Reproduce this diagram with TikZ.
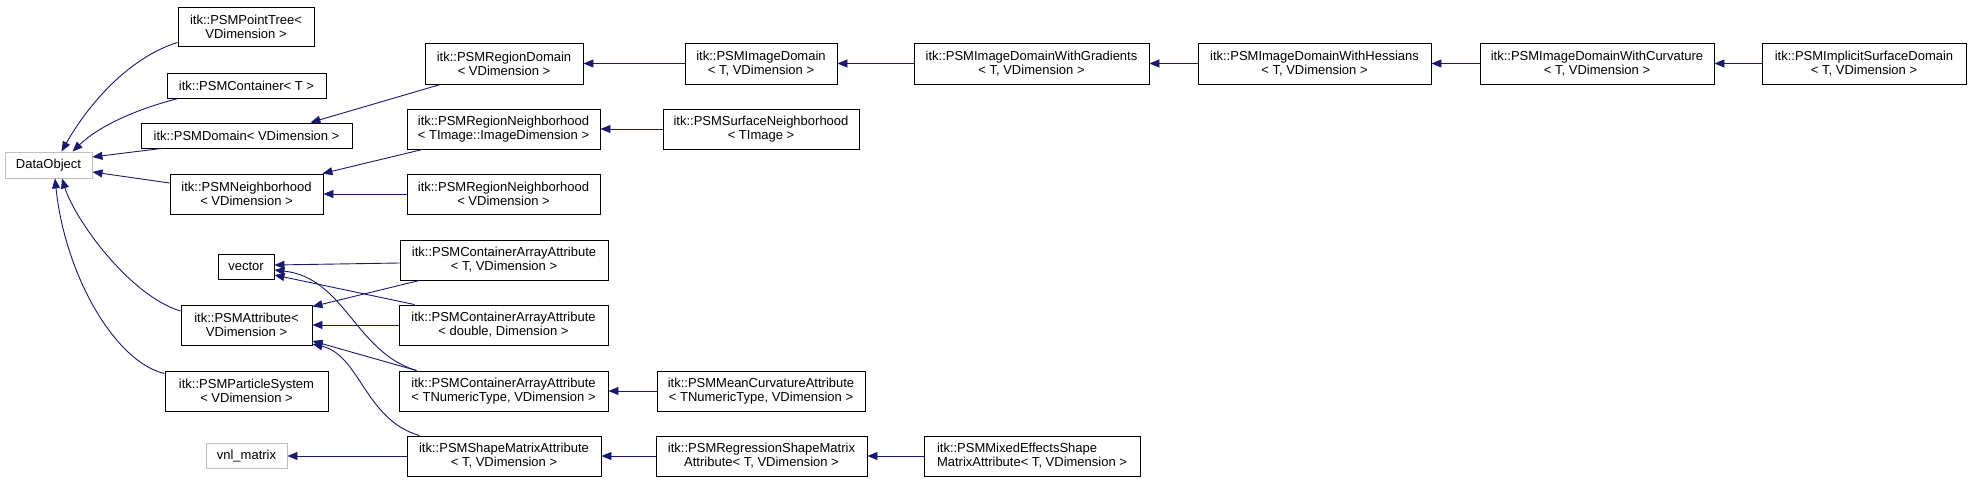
\documentclass[tikz,border=0pt]{standalone}
\usepackage{fontspec}
\setmainfont{Liberation Sans}
\usetikzlibrary{arrows.meta}
\definecolor{edgeblue}{HTML}{191970}
\definecolor{lightborder}{HTML}{BFBFBF}
\begin{document}
\begin{tikzpicture}[x=1pt,y=-1pt,
  box/.style={draw=black, line width=0.9pt, fill=white, inner sep=0pt, align=center, font=\fontsize{13}{14}\selectfont},
  graybox/.style={box, draw=lightborder},
  edge/.style={draw=edgeblue, line width=0.9pt, -{Triangle[length=10pt,width=8pt]}}]
\fill[white] (0,0) rectangle (1971,481);
\useasboundingbox (0,0) rectangle (1971,481);

% column 1
\node[graybox, minimum width=87pt, minimum height=26pt] (dataobj) at (48.5,165) {DataObject};
\node[box, minimum width=136pt, minimum height=39pt] (pointtree) at (246,26.5) {itk::PSMPointTree<\\VDimension >};
\node[box, minimum width=159pt, minimum height=25pt] (container) at (246.5,85.5) {itk::PSMContainer< T >};
\node[box, minimum width=211pt, minimum height=25pt] (domain) at (246.5,135.5) {itk::PSMDomain< VDimension >};
\node[box, minimum width=153pt, minimum height=40pt] (neigh) at (246.5,194) {itk::PSMNeighborhood\\< VDimension >};
\node[box, minimum width=56pt, minimum height=25pt] (vector) at (246,266.5) {vector};
\node[box, minimum width=131pt, minimum height=40pt] (attr) at (246.5,325) {itk::PSMAttribute<\\VDimension >};
\node[box, minimum width=163pt, minimum height=40pt] (particle) at (246.5,391) {itk::PSMParticleSystem\\< VDimension >};
\node[graybox, minimum width=81pt, minimum height=25pt] (vnl) at (246.5,456) {vnl\_matrix};

% column 2
\node[box, minimum width=158pt, minimum height=41pt] (regdom) at (504,63.5) {itk::PSMRegionDomain\\< VDimension >};
\node[box, minimum width=193pt, minimum height=40pt] (regnT) at (503.5,129) {itk::PSMRegionNeighborhood\\< TImage::ImageDimension >};
\node[box, minimum width=193pt, minimum height=40pt] (regnV) at (503.5,194) {itk::PSMRegionNeighborhood\\< VDimension >};
\node[box, minimum width=208pt, minimum height=40pt] (caaT) at (504,260) {itk::PSMContainerArrayAttribute\\< T, VDimension >};
\node[box, minimum width=209pt, minimum height=40pt] (caaD) at (503.5,325) {itk::PSMContainerArrayAttribute\\< double, Dimension >};
\node[box, minimum width=209pt, minimum height=40pt] (caaN) at (503.5,391) {itk::PSMContainerArrayAttribute\\< TNumericType, VDimension >};
\node[box, minimum width=194pt, minimum height=40pt] (shape) at (504,456) {itk::PSMShapeMatrixAttribute\\< T, VDimension >};

% column 3
\node[box, minimum width=152pt, minimum height=41pt] (imgdom) at (761,63.5) {itk::PSMImageDomain\\< T, VDimension >};
\node[box, minimum width=196pt, minimum height=40pt] (surf) at (761,129) {itk::PSMSurfaceNeighborhood\\< TImage >};
\node[box, minimum width=208pt, minimum height=40pt] (mean) at (761,391) {itk::PSMMeanCurvatureAttribute\\< TNumericType, VDimension >};
\node[box, minimum width=211pt, minimum height=40pt] (regr) at (761.5,456) {itk::PSMRegressionShapeMatrix\\Attribute< T, VDimension >};

% further columns
\node[box, minimum width=235pt, minimum height=41pt] (grad) at (1031.5,63.5) {itk::PSMImageDomainWithGradients\\< T, VDimension >};
\node[box, minimum width=233pt, minimum height=41pt] (hess) at (1314.5,63.5) {itk::PSMImageDomainWithHessians\\< T, VDimension >};
\node[box, minimum width=234pt, minimum height=41pt] (curv) at (1597,63.5) {itk::PSMImageDomainWithCurvature\\< T, VDimension >};
\node[box, minimum width=204pt, minimum height=41pt] (impl) at (1864,63.5) {itk::PSMImplicitSurfaceDomain\\< T, VDimension >};
\node[box, align=left, minimum width=216pt, minimum height=40pt] (mixed) at (1032,456) {itk::PSMMixedEffectsShape\\MatrixAttribute< T, VDimension >};

% edges into DataObject
\draw[edge] ([yshift=4pt]pointtree.south west) .. controls (128,58) and (88,105) .. ([xshift=13pt]dataobj.north);
\draw[edge] ([xshift=12pt]container.south west) .. controls (140,108) and (100,125) .. ([xshift=24pt]dataobj.north);
\draw[edge] ([xshift=21pt]domain.south west) -- ([yshift=8pt]dataobj.east);
\draw[edge] ([yshift=11pt]neigh.west) -- ([yshift=-7pt]dataobj.east);
\draw[edge] ([yshift=14pt]attr.west) .. controls (130,296) and (75,220) .. ([xshift=13.5pt]dataobj.south);
\draw[edge] ([yshift=-3pt]particle.north west) .. controls (115,362) and (65,275) .. ([xshift=6.5pt]dataobj.south);

% domain chain
\draw[edge] ([xshift=16pt]regdom.south west) -- ([xshift=-42pt]domain.north east);
\draw[edge] (imgdom.west) -- (regdom.east);
\draw[edge] (grad.west) -- (imgdom.east);
\draw[edge] (hess.west) -- (grad.east);
\draw[edge] (curv.west) -- (hess.east);
\draw[edge] (impl.west) -- (curv.east);

% neighborhoods
\draw[edge] ([xshift=16pt]regnT.south west) -- ([xshift=-1pt]neigh.north east);
\draw[edge] (regnV.west) -- (neigh.east);
\draw[edge] (surf.west) -- (regnT.east);

% attributes
\draw[edge] ([yshift=-3pt]caaT.west) -- ([yshift=1.5pt]vector.east);
\draw[edge] ([xshift=20pt]caaT.south west) -- ([yshift=-2pt]attr.north east);
\draw[edge] ([xshift=16pt]caaD.north west) -- ([yshift=-8.5pt]vector.east);
\draw[edge] (caaD.west) -- (attr.east);
\draw[edge] ([xshift=18pt]caaN.north west) .. controls (355,352) and (345,278) .. ([yshift=-3.5pt]vector.east);
\draw[edge] ([xshift=18pt]caaN.north west) -- ([yshift=-16pt]attr.east);
\draw[edge] ([xshift=13pt]shape.north west) .. controls (365,420) and (360,355) .. ([yshift=-19pt]attr.east);
\draw[edge] (shape.west) -- (vnl.east);
\draw[edge] (mean.west) -- (caaN.east);
\draw[edge] (regr.west) -- (shape.east);
\draw[edge] (mixed.west) -- (regr.east);
\end{tikzpicture}
\end{document}
